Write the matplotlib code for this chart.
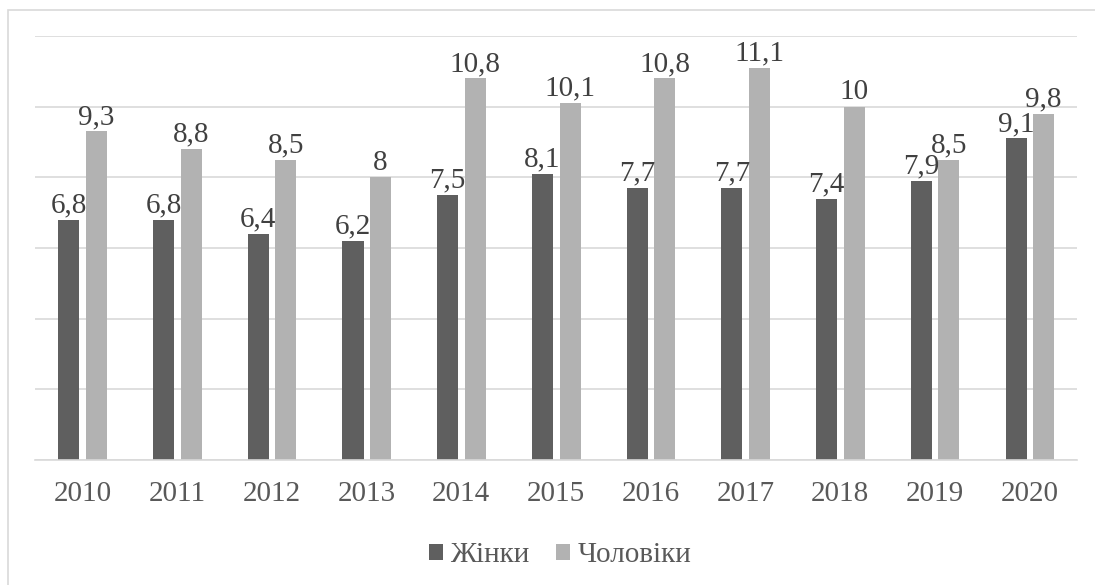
import matplotlib.pyplot as plt
import numpy as np
from matplotlib.patches import Rectangle

# Дані
years = ['2010', '2011', '2012', '2013', '2014', '2015', '2016', '2017', '2018', '2019', '2020']
women = [6.8, 6.8, 6.4, 6.2, 7.5, 8.1, 7.7, 7.7, 7.4, 7.9, 9.1]
men = [9.3, 8.8, 8.5, 8.0, 10.8, 10.1, 10.8, 11.1, 10.0, 8.5, 9.8]
series_names = ['Жінки', 'Чоловіки']

FONT = 'Liberation Serif'

fig = plt.figure(figsize=(10.95, 5.85), dpi=100)
ax = fig.add_axes([35 / 1095, 1 - 460 / 585, (1077 - 35) / 1095, (460 - 36) / 585])

# рамка навколо діаграми
fig.patches.append(Rectangle((8 / 1095, -0.1), 1.2, 1 - 10 / 585 + 0.1,
                             transform=fig.transFigure, fill=False,
                             edgecolor='#d9d9d9', linewidth=1.2))

x = np.arange(len(years))
w = 0.222
b1 = ax.bar(x - 0.143, women, width=w, color='#5f5f5f', label=series_names[0], zorder=2)
b2 = ax.bar(x + 0.148, men, width=w, color='#b2b2b2', label=series_names[1], zorder=2)


def fmt(vals):
    return [f'{v:g}'.replace('.', ',') for v in vals]


ax.bar_label(b1, labels=fmt(women), padding=1, fontsize=21, color='#404040', fontfamily=FONT)
ax.bar_label(b2, labels=fmt(men), padding=1, fontsize=21, color='#404040', fontfamily=FONT)

ax.set_xlim(-0.5, len(years) - 0.5)
ax.set_ylim(0, 12)
ax.set_yticks(np.arange(0, 13, 2))
ax.yaxis.grid(True, color='#d9d9d9', linewidth=1.2, zorder=0)
ax.set_axisbelow(True)
ax.tick_params(axis='y', left=False, labelleft=False)
ax.set_xticks(x)
ax.set_xticklabels(years, fontsize=21, color='#595959', fontfamily=FONT)
ax.tick_params(axis='x', length=0, pad=15)
for s in ['top', 'right', 'left']:
    ax.spines[s].set_visible(False)
ax.spines['bottom'].set_color('#d9d9d9')
ax.spines['bottom'].set_linewidth(1.2)

fig.legend(loc='center', bbox_to_anchor=(560 / 1095, 1 - 555 / 585), ncol=2,
           frameon=False, prop={'family': FONT, 'size': 21}, labelcolor='#595959',
           handlelength=0.48, handleheight=0.48, handletextpad=0.25,
           columnspacing=0.9, borderaxespad=0)

fig.savefig('out.png', dpi=100)
